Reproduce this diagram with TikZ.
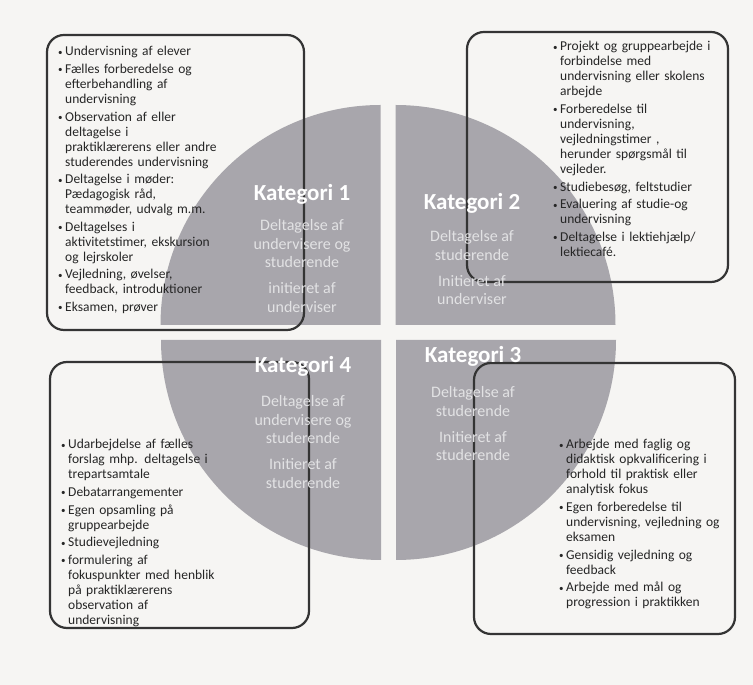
\documentclass[tikz,border=0pt]{standalone}
\usepackage{fontspec}
\setmainfont{Carlito}
\usepackage{tikz}
\usetikzlibrary{positioning}
\definecolor{kPaper}{RGB}{246,245,243}
\definecolor{kQuad}{RGB}{168,166,172}
\definecolor{kFrame}{RGB}{52,52,52}
\definecolor{kInk}{RGB}{38,38,38}
\definecolor{kSub}{RGB}{226,226,228}
\newcommand{\listfont}{\fontsize{13.5}{15}\selectfont}
\newcommand{\blt}{\makebox[7pt][l]{\raisebox{0.6pt}{\fontsize{9}{9}\selectfont\textbullet}}}
\newcommand{\itm}[1]{\hangindent=7pt\hangafter=1\noindent\blt#1\par}

\begin{document}
\begin{tikzpicture}[
  x=1pt, y=1pt,
  quad/.style={fill=kQuad},
  frame/.style={draw=kFrame, line width=2.2pt, rounded corners=17pt},
  list/.style={font=\listfont, text=kInk, text width=210pt, align=left, inner sep=0pt,
    anchor=base west, execute at begin node={\setlength{\parskip}{2.6pt}}},
  ktitle/.style={font=\fontsize{23}{27}\selectfont\bfseries, text=white, inner sep=0pt, anchor=base},
  ksub/.style={font=\fontsize{16}{18.5}\selectfont, text=kSub, align=center, inner sep=0pt, anchor=north},
]
\useasboundingbox (0,0) rectangle (753,685);
\fill[kPaper] (0,0) rectangle (753,685);
% circle quarters
\fill[quad] (380.5,360) -- ++(-220,0) arc[start angle=180, end angle=90, radius=220pt] -- cycle;
\fill[quad] (395.5,360) -- ++(0,220) arc[start angle=90, end angle=0, radius=220pt] -- cycle;
\fill[quad] (396,345) -- ++(220,0) arc[start angle=0, end angle=-90, radius=220pt] -- cycle;
\fill[quad] (381,345) -- ++(0,-220) arc[start angle=270, end angle=180, radius=220pt] -- cycle;
% frames
\draw[frame] (47,355) rectangle (304,650);
\draw[frame] (467,403) rectangle (728,653);
\draw[frame] (474,51) rectangle (735,322);
\draw[frame] (50,57) rectangle (309,323);
% lists
\node[list] (l1) at (58,629) {%
  \itm{Undervisning af elever}
  \itm{Fælles forberedelse og\newline efterbehandling af\newline undervisning}
  \itm{Observation af eller\newline deltagelse i\newline praktiklærerens eller andre\newline studerendes undervisning}
  \itm{Deltagelse i møder:\newline Pædagogisk råd,\newline teammøder, udvalg m.m.}
  \itm{Deltagelses i\newline aktivitetstimer, ekskursion\newline og lejrskoler}
  \itm{Vejledning, øvelser,\newline feedback, introduktioner}
  \itm{Eksamen, prøver}};
\node[list] (l2) at (553,634) {%
  \itm{Projekt og gruppearbejde i\newline forbindelse med\newline undervisning eller skolens\newline arbejde}
  \itm{Forberedelse til\newline undervisning,\newline vejledningstimer ,\newline herunder spørgsmål til\newline vejleder.}
  \itm{Studiebesøg, feltstudier}
  \itm{Evaluering af studie-og\newline undervisning}
  \itm{Deltagelse i lektiehjælp/\newline lektiecafé.}};
\node[list] (l3) at (559,236) {%
  \itm{Arbejde med faglig og\newline didaktisk opkvalificering i\newline forhold til praktisk eller\newline analytisk fokus}
  \itm{Egen forberedelse til\newline undervisning, vejledning og\newline eksamen}
  \itm{Gensidig vejledning og\newline feedback}
  \itm{Arbejde med mål og\newline progression i praktikken}};
\node[list] (l4) at (61,236) {%
  \itm{Udarbejdelse af fælles\newline forslag mhp. deltagelse i\newline trepartsamtale}
  \itm{Debatarrangementer}
  \itm{Egen opsamling på\newline gruppearbejde}
  \itm{Studievejledning}
  \itm{formulering af\newline fokuspunkter med henblik\newline på praktiklærerens\newline observation af\newline undervisning}};
% categories
\node[ktitle] (k1) at (302,484.5) {Kategori 1};
\node[ksub] (s1) at (302,465.5) {Deltagelse af\\undervisere og\\studerende\\[7.5pt]initieret af\\underviser};
\node[ktitle] (k2) at (472,475.5) {Kategori 2};
\node[ksub] (s2) at (472,454.5) {Deltagelse af\\studerende\\[7.5pt]Initieret af\\underviser};
\node[ktitle] (k3) at (473,322.5) {Kategori 3};
\node[ksub] (s3) at (473,298.5) {Deltagelse af\\studerende\\[7.5pt]Initieret af\\studerende};
\node[ktitle] (k4) at (303,312.5) {Kategori 4};
\node[ksub] (s4) at (303,289.5) {Deltagelse af\\undervisere og\\studerende\\[7.5pt]Initieret af\\studerende};
\end{tikzpicture}
\end{document}
